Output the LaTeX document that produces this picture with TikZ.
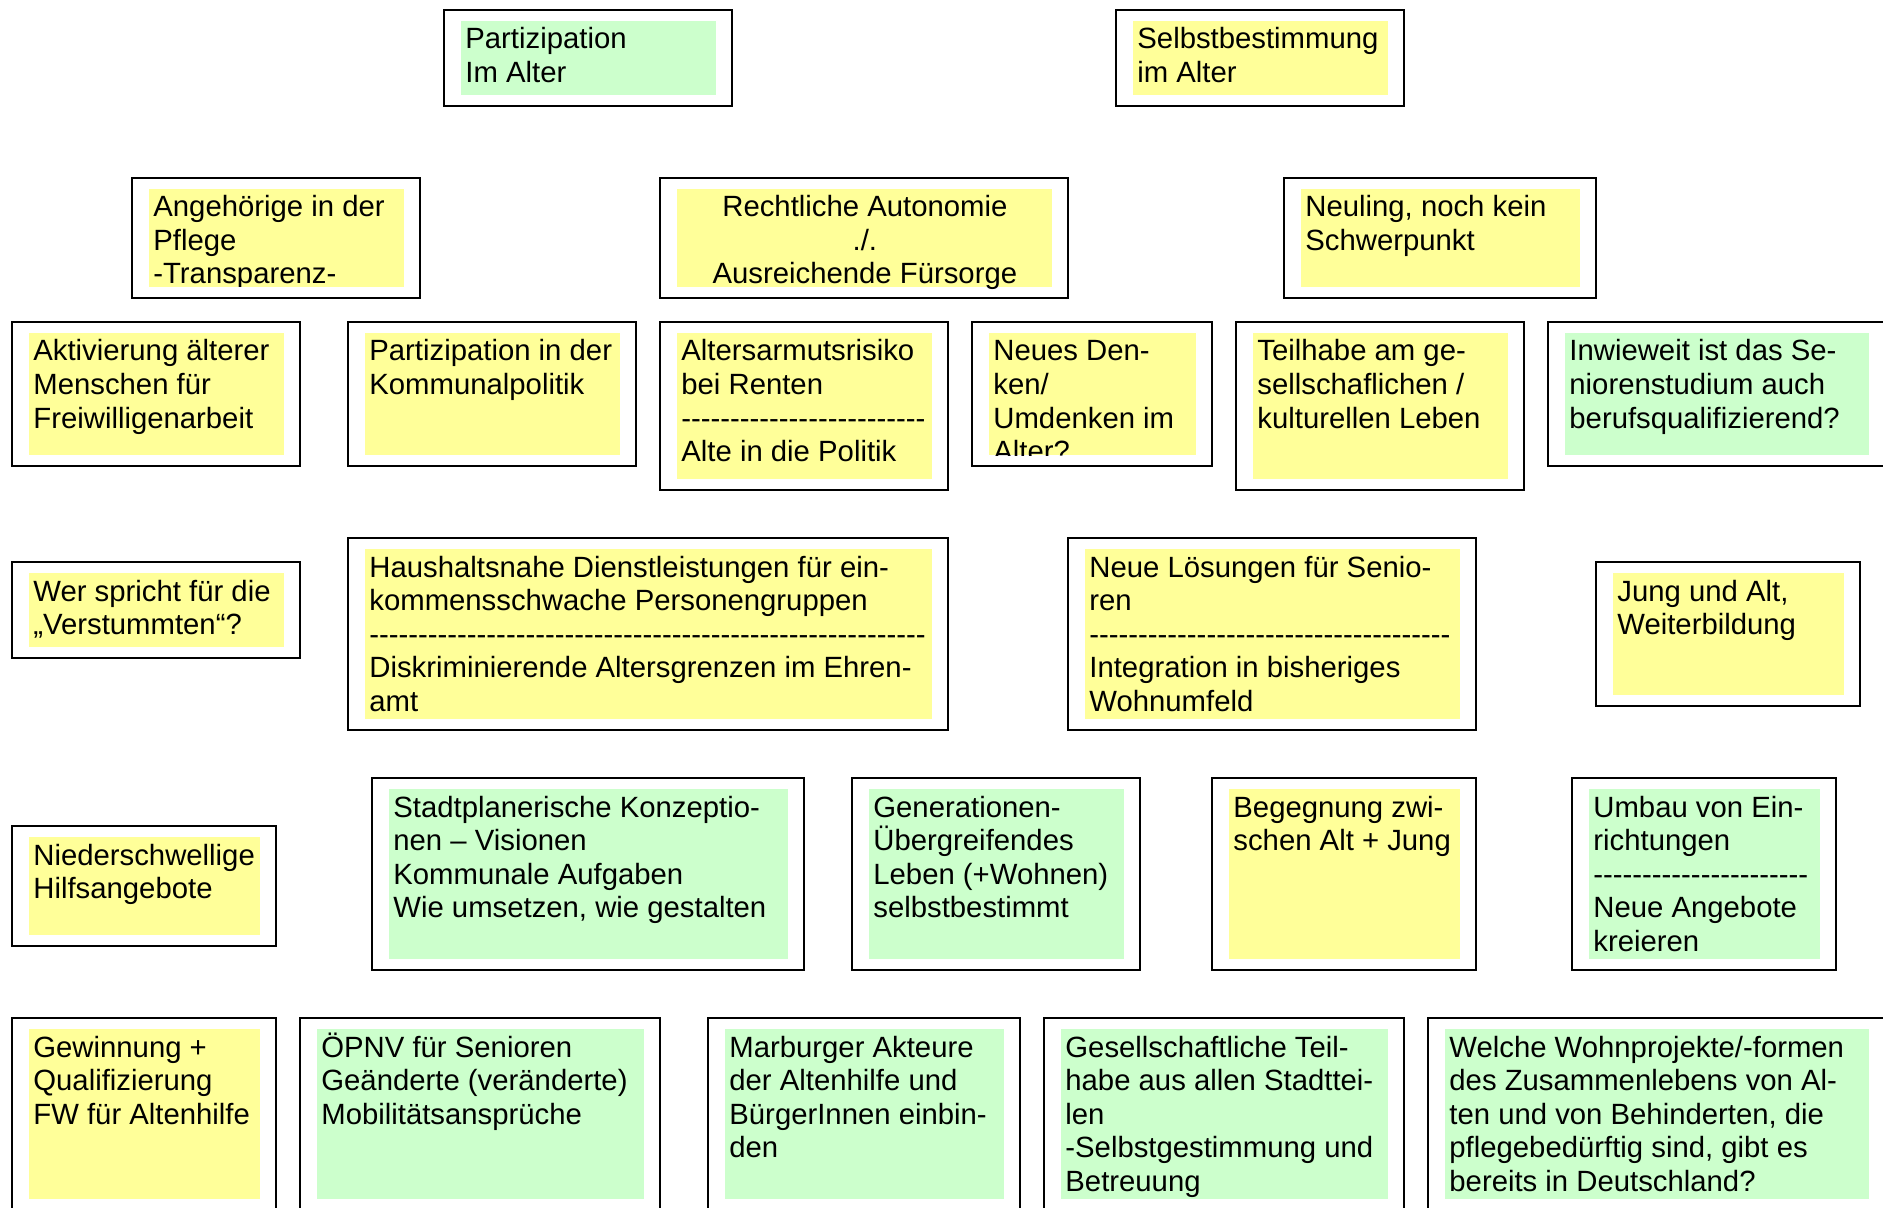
\documentclass[tikz,border=0pt]{standalone}
\usepackage{fontspec}
\setmainfont{Liberation Sans}
\definecolor{noteyellow}{HTML}{FFFF99}
\definecolor{notegreen}{HTML}{CCFFCC}
\newcount\dashcnt
\newcommand\dashrow[1]{\dashcnt=#1\relax\loop-\kern0pt\advance\dashcnt by -1\relax\ifnum\dashcnt>0\repeat}
\tikzset{
  frame/.style={draw=black, line width=1pt},
  txt/.style={anchor=base west, inner sep=0pt, text=black,
    font=\fontsize{14.65pt}{16.75pt}\selectfont},
}
% #1 name, #2 x1, #3 y1, #4 x2, #5 y2, #6 colour, #7 text
\newcommand\card[7]{%
  \draw[frame] (#2,#3) rectangle (#4,#5);
  \fill[#6] ({#2+17},{#3+11}) rectangle ({#4-16},{#5-11});
  \begin{scope}
    \clip ({#2+17},{#3+11}) rectangle ({#4-16},{#5-11});
    \node[txt] (#1) at ({#2+21},{#3+39}) {\parbox[t]{400pt}{\raggedright #7}};
  \end{scope}}
\begin{document}
\begin{tikzpicture}[x=0.5pt,y=-0.5pt]
\useasboundingbox (0,0) rectangle (1883,1208);
\clip (0,0) rectangle (1883,1208);
\fill[white] (0,0) rectangle (1883,1208);

\card{partizipation}{444}{10}{732}{106}{notegreen}{Partizipation\\Im Alter}
\card{selbst}{1116}{10}{1404}{106}{noteyellow}{Selbstbestimmung\\im Alter}

\card{angehoerige}{132}{178}{420}{298}{noteyellow}{Angehörige in der\\Pflege\\-Transparenz-}
\draw[frame] (660,178) rectangle (1068,298);
\fill[noteyellow] (677,189) rectangle (1052,287);
\node[txt] (autonomie) at (677,217) {\parbox[t]{187.5pt}{\centering Rechtliche Autonomie\\./.\\Ausreichende Fürsorge}};
\card{neuling}{1284}{178}{1596}{298}{noteyellow}{Neuling, noch kein\\Schwerpunkt}

\card{aktivierung}{12}{322}{300}{466}{noteyellow}{Aktivierung älterer\\Menschen für\\Freiwilligenarbeit}
\card{kommunal}{348}{322}{636}{466}{noteyellow}{Partizipation in der\\Kommunalpolitik}
\card{armut}{660}{322}{948}{490}{noteyellow}{Altersarmutsrisiko\\bei Renten\\\dashrow{25}\\Alte in die Politik}
\card{denken}{972}{322}{1212}{466}{noteyellow}{Neues Den-\\ken/\\Umdenken im\\Alter?}
\card{teilhabe}{1236}{322}{1524}{490}{noteyellow}{Teilhabe am ge-\\sellschaflichen /\\kulturellen Leben}
\card{studium}{1548}{322}{1885}{466}{notegreen}{Inwieweit ist das Se-\\niorenstudium auch\\berufsqualifizierend?}

\card{verstummte}{12}{562}{300}{658}{noteyellow}{Wer spricht für die\\„Verstummten“?}
\card{haushalt}{348}{538}{948}{730}{noteyellow}{Haushaltsnahe Dienstleistungen für ein-\\kommensschwache Personengruppen\\\dashrow{57}\\Diskriminierende Altersgrenzen im Ehren-\\amt}
\card{loesungen}{1068}{538}{1476}{730}{noteyellow}{Neue Lösungen für Senio-\\ren\\\dashrow{37}\\Integration in bisheriges\\Wohnumfeld}
\card{jungalt}{1596}{562}{1860}{706}{noteyellow}{Jung und Alt,\\Weiterbildung}

\card{niederschwellig}{12}{826}{276}{946}{noteyellow}{Niederschwellige\\Hilfsangebote}
\card{stadtplanung}{372}{778}{804}{970}{notegreen}{Stadtplanerische Konzeptio-\\nen – Visionen\\Kommunale Aufgaben\\Wie umsetzen, wie gestalten}
\card{generationen}{852}{778}{1140}{970}{notegreen}{Generationen-\\Übergreifendes\\Leben (+Wohnen)\\selbstbestimmt}
\card{begegnung}{1212}{778}{1476}{970}{noteyellow}{Begegnung zwi-\\schen Alt + Jung}
\card{umbau}{1572}{778}{1836}{970}{notegreen}{Umbau von Ein-\\richtungen\\\dashrow{22}\\Neue Angebote\\kreieren}

\card{gewinnung}{12}{1018}{276}{1210}{noteyellow}{Gewinnung +\\Qualifizierung\\FW für Altenhilfe}
\card{oepnv}{300}{1018}{660}{1210}{notegreen}{ÖPNV für Senioren\\Geänderte (veränderte)\\Mobilitätsansprüche}
\card{marburg}{708}{1018}{1020}{1210}{notegreen}{Marburger Akteure\\der Altenhilfe und\\BürgerInnen einbin-\\den}
\card{gesellschaft}{1044}{1018}{1404}{1210}{notegreen}{Gesellschaftliche Teil-\\habe aus allen Stadttei-\\len\\-Selbstgestimmung und\\Betreuung}
\card{wohnformen}{1428}{1018}{1885}{1210}{notegreen}{Welche Wohnprojekte/-formen\\des Zusammenlebens von Al-\\ten und von Behinderten, die\\pflegebedürftig sind, gibt es\\bereits in Deutschland?}
\end{tikzpicture}
\end{document}
